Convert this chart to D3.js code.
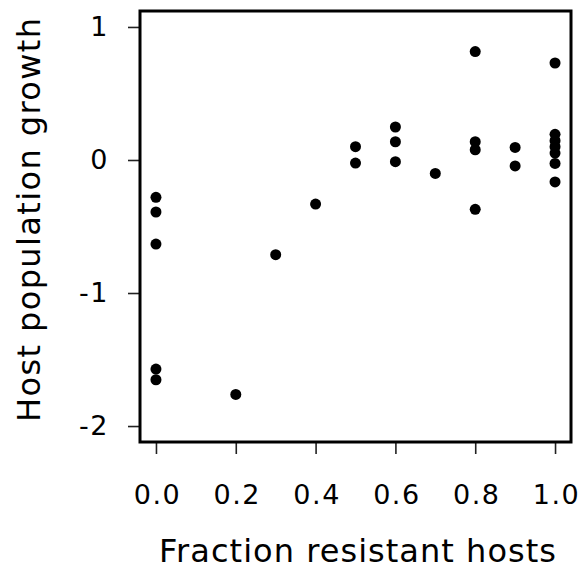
<!DOCTYPE html>
<html>
<head>
<meta charset="utf-8">
<script src="https://cdn.jsdelivr.net/npm/d3@7/dist/d3.min.js"></script>
<style>
  html, body { margin: 0; padding: 0; background: #fff; }
  svg { display: block; }
  text { font-family: "DejaVu Sans", Verdana, sans-serif; fill: #000; }
</style>
</head>
<body>
<div id="chart"></div>
<script>
// Data
const fractionResistant = [0.0, 0.0, 0.0, 0.0, 0.0,
  0.2, 0.3, 0.4,
  0.5, 0.5,
  0.6, 0.6, 0.6,
  0.7,
  0.8, 0.8, 0.8, 0.8,
  0.9, 0.9,
  1.0, 1.0, 1.0, 1.0, 1.0, 1.0, 1.0];
const hostGrowth = [-0.281, -0.391, -0.632, -1.572, -1.652,
  -1.762, -0.712, -0.331,
  0.100, -0.023,
  0.248, 0.137, -0.013,
  -0.101,
  0.815, 0.137, 0.077, -0.371,
  0.094, -0.045,
  0.729, 0.193, 0.145, 0.100, 0.052, -0.026, -0.165];
const xTicks = [0, 0.2, 0.4, 0.6, 0.8, 1.0];
const yTicks = [1, 0, -1, -2];
const xLabel = "Fraction resistant hosts";
const yLabel = "Host population growth";

const W = 582, H = 574;
const mLeft = 140, mRight = 571, mTop = 11, mBottom = 442;

const svg = d3.select("#chart").append("svg").attr("width", W).attr("height", H);

const x = d3.scaleLinear().domain([-0.04, 1.04]).range([mLeft, mRight]);
const y = d3.scaleLinear().domain([-2.12, 1.12]).range([mBottom, mTop]);

// X axis
const xAxis = d3.axisBottom(x).tickValues(xTicks).tickSize(12).tickPadding(31)
  .tickFormat(d3.format(".1f"));
const gx = svg.append("g").attr("transform", `translate(0,${mBottom})`).call(xAxis);
gx.select(".domain").remove();
gx.selectAll(".tick line").attr("stroke", "#222").attr("stroke-width", 1.6);
gx.selectAll(".tick text").attr("font-size", 27).attr("fill", "#000")
  .attr("letter-spacing", "1.5px").attr("dx", "1")
  .attr("font-family", "DejaVu Sans, Verdana, sans-serif");

// Y axis
const yAxis = d3.axisLeft(y).tickValues(yTicks).tickSize(12).tickPadding(19)
  .tickFormat(d => d < 0 ? "-" + Math.abs(d) : String(d));
const gy = svg.append("g").attr("transform", `translate(${mLeft},0)`).call(yAxis);
gy.select(".domain").remove();
gy.selectAll(".tick line").attr("stroke", "#222").attr("stroke-width", 1.6);
gy.selectAll(".tick text").attr("font-size", 27).attr("fill", "#000")
  .attr("letter-spacing", "1.5px")
  .attr("font-family", "DejaVu Sans, Verdana, sans-serif");

// Box
svg.append("rect")
  .attr("x", mLeft).attr("y", mTop)
  .attr("width", mRight - mLeft).attr("height", mBottom - mTop)
  .attr("fill", "none").attr("stroke", "#000").attr("stroke-width", 3);

// Points
svg.append("g").selectAll("circle")
  .data(fractionResistant.map((f, i) => ({f, g: hostGrowth[i]})))
  .join("circle")
  .attr("cx", d => x(d.f))
  .attr("cy", d => y(d.g))
  .attr("r", 5.5)
  .attr("fill", "#000");

// Axis titles
svg.append("text")
  .attr("x", 357.5).attr("y", 562)
  .attr("text-anchor", "middle").attr("font-size", 32)
  .attr("textLength", 397).attr("lengthAdjust", "spacing")
  .text(xLabel);

svg.append("text")
  .attr("transform", `translate(40,220) rotate(-90)`)
  .attr("text-anchor", "middle").attr("font-size", 32)
  .attr("textLength", 404).attr("lengthAdjust", "spacing")
  .text(yLabel);
</script>
</body>
</html>
